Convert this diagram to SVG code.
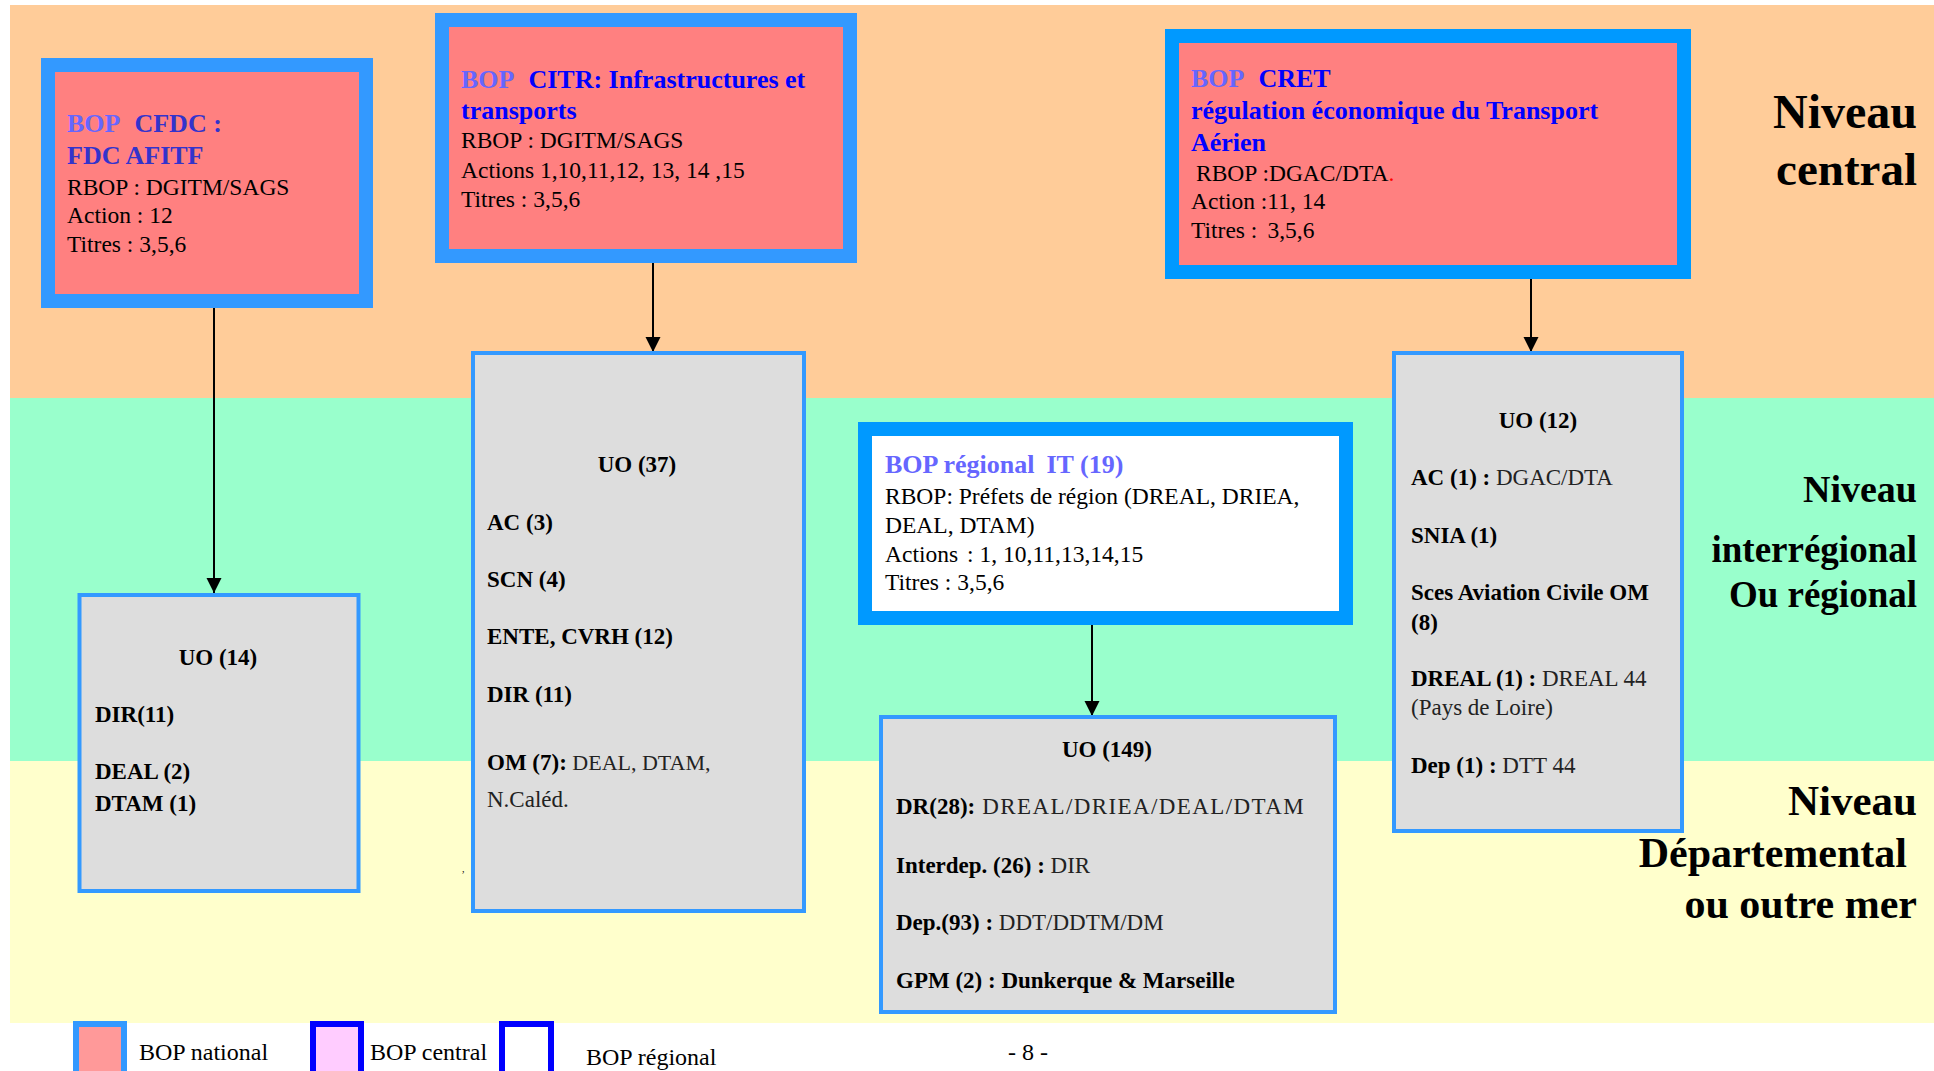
<svg xmlns="http://www.w3.org/2000/svg" width="1934" height="1071" viewBox="0 0 1934 1071">
<defs>
<marker id="arr" markerUnits="userSpaceOnUse" markerWidth="16" markerHeight="16" refX="15" refY="8" orient="auto">
<path d="M0,0.5 L15,8 L0,15.5 z" fill="#000"/>
</marker>
</defs>
<style>
text{font-family:"Liberation Serif","Times New Roman",serif;fill:#000}
.bop{stroke-width:14}
.nat{fill:#ff8080;stroke:#3399ff}
.reg{fill:#ffffff;stroke:#0099ff}
.uo{fill:#dddddd;stroke:#3399ff;stroke-width:4}
.t{font-size:26px;font-weight:bold}
.b{font-size:23.5px}
.u{font-size:23px;font-weight:bold}
.r{font-weight:normal;fill:#222}
.lbl{font-weight:bold;text-anchor:end}
.lg{font-size:24px}
.c1{fill:#6666ff}
.c2{fill:#3333cc}
.c3{fill:#0000ff}
.conn{stroke:#000;stroke-width:2;fill:none;marker-end:url(#arr)}
</style>
<g id="bands">
<rect x="10" y="5" width="1924" height="393" fill="#ffcc99"/>
<rect x="10" y="398" width="1924" height="363" fill="#99ffcc"/>
<rect x="10" y="761" width="1924" height="262" fill="#ffffcc"/>
</g>
<g id="levels">
<text class="lbl" x="1917" y="128" font-size="48">Niveau</text>
<text class="lbl" x="1917" y="185" font-size="47">central</text>
<text class="lbl" x="1917" y="502" font-size="38">Niveau</text>
<text class="lbl" x="1917" y="562" font-size="37">interrégional</text>
<text class="lbl" x="1917" y="607" font-size="37">Ou régional</text>
<text class="lbl" x="1917" y="815" font-size="43">Niveau</text>
<text class="lbl" x="1907" y="867" font-size="42">Départemental</text>
<text class="lbl" x="1917" y="918" font-size="42">ou outre mer</text>
</g>
<g id="connectors">
<line class="conn" x1="214" y1="308" x2="214" y2="593"/>
<line class="conn" x1="653" y1="263" x2="653" y2="352"/>
<line class="conn" x1="1531" y1="279" x2="1531" y2="352"/>
<line class="conn" x1="1092" y1="625" x2="1092" y2="716"/>
</g>
<g id="cfdc">
<rect class="bop nat" x="48" y="65" width="318" height="236"/>
<text class="t" x="67" y="132"><tspan class="c1">BOP</tspan><tspan class="c2" dx="14">CFDC :</tspan></text>
<text class="t c2" x="67" y="164">FDC AFITF</text>
<text class="b" x="67" y="195">RBOP : DGITM/SAGS</text>
<text class="b" x="67" y="223">Action : 12</text>
<text class="b" x="67" y="252">Titres : 3,5,6</text>
</g>
<g id="citr">
<rect class="bop nat" x="442" y="20" width="408" height="236"/>
<text class="t" x="461" y="88"><tspan class="c1">BOP</tspan><tspan class="c3" dx="14">CITR: Infrastructures et</tspan></text>
<text class="t c3" x="461" y="119">transports</text>
<text class="b" x="461" y="148">RBOP : DGITM/SAGS</text>
<text class="b" x="461" y="178">Actions 1,10,11,12, 13, 14 ,15</text>
<text class="b" x="461" y="207">Titres : 3,5,6</text>
</g>
<g id="cret">
<rect class="bop nat" x="1172" y="36" width="512" height="236" style="stroke:#0099ff"/>
<text class="t" x="1191" y="87"><tspan class="c1">BOP</tspan><tspan class="c3" dx="14">CRET</tspan></text>
<text class="t c3" x="1191" y="119" font-size="26.5">régulation économique du Transport</text>
<text class="t c3" x="1191" y="151">Aérien</text>
<text class="b" x="1196" y="181">RBOP :DGAC/DTA<tspan fill="#ff0000">.</tspan></text>
<text class="b" x="1191" y="209">Action :11, 14</text>
<text class="b" x="1191" y="238">Titres :<tspan dx="10">3,5,6</tspan></text>
</g>
<g id="bop-regional">
<rect class="bop reg" x="865" y="429" width="481" height="189"/>
<text class="t c1" x="885" y="473">BOP régional<tspan dx="12">IT (19)</tspan></text>
<text class="b" x="885" y="504">RBOP: Préfets de région (DREAL, DRIEA,</text>
<text class="b" x="885" y="533">DEAL, DTAM)</text>
<text class="b" x="885" y="562">Actions<tspan dx="9">: 1, 10,11,13,14,15</tspan></text>
<text class="b" x="885" y="590">Titres : 3,5,6</text>
</g>
<g id="uo14">
<rect class="uo" x="79.5" y="595" width="279" height="296"/>
<text class="u" x="218" y="665" text-anchor="middle">UO (14)</text>
<text class="u" x="95" y="722">DIR(11)</text>
<text class="u" x="95" y="779">DEAL (2)</text>
<text class="u" x="95" y="811">DTAM (1)</text>
</g>
<g id="uo37">
<rect class="uo" x="473" y="353" width="331" height="558"/>
<text class="u" x="637" y="472" text-anchor="middle">UO (37)</text>
<text class="u" x="487" y="530">AC (3)</text>
<text class="u" x="487" y="587">SCN (4)</text>
<text class="u" x="487" y="644">ENTE, CVRH (12)</text>
<text class="u" x="487" y="702">DIR (11)</text>
<text class="u" x="487" y="770">OM (7):<tspan class="r" font-size="22"> DEAL, DTAM,</tspan></text>
<text class="u r" x="487" y="807">N.Caléd.</text>
</g>
<text x="462" y="872" font-size="10">,</text>
<g id="uo12">
<rect class="uo" x="1394" y="353" width="288" height="478"/>
<text class="u" x="1538" y="428" text-anchor="middle">UO (12)</text>
<text class="u" x="1411" y="485">AC (1) :<tspan class="r"> DGAC/DTA</tspan></text>
<text class="u" x="1411" y="543">SNIA (1)</text>
<text class="u" x="1411" y="600">Sces Aviation Civile OM</text>
<text class="u" x="1411" y="630">(8)</text>
<text class="u" x="1411" y="686">DREAL (1) :<tspan class="r"> DREAL 44</tspan></text>
<text class="u r" x="1411" y="715">(Pays de Loire)</text>
<text class="u" x="1411" y="773">Dep (1) :<tspan class="r"> DTT 44</tspan></text>
</g>
<g id="uo149">
<rect class="uo" x="881" y="717" width="454" height="295"/>
<text class="u" x="1107" y="757" text-anchor="middle">UO (149)</text>
<text class="u" x="896" y="814">DR(28):<tspan class="r" letter-spacing="1.4"> DREAL/DRIEA/DEAL/DTAM</tspan></text>
<text class="u" x="896" y="873">Interdep. (26) :<tspan class="r"> DIR</tspan></text>
<text class="u" x="896" y="930">Dep.(93) :<tspan class="r"> DDT/DDTM/DM</tspan></text>
<text class="u" x="896" y="988">GPM (2) : Dunkerque &amp; Marseille</text>
</g>
<g id="legend">
<rect x="76" y="1024" width="48" height="60" fill="#ff9999" stroke="#3399ff" stroke-width="6"/>
<text class="lg" x="139" y="1060">BOP national</text>
<rect x="313" y="1024" width="48" height="60" fill="#ffccff" stroke="#0000ff" stroke-width="6"/>
<text class="lg" x="370" y="1060">BOP central</text>
<rect x="502" y="1024" width="49" height="60" fill="#ffffff" stroke="#0000ff" stroke-width="6"/>
<text class="lg" x="586" y="1065">BOP régional</text>
<text class="lg" x="1028" y="1060" text-anchor="middle">- 8 -</text>
</g>
</svg>
